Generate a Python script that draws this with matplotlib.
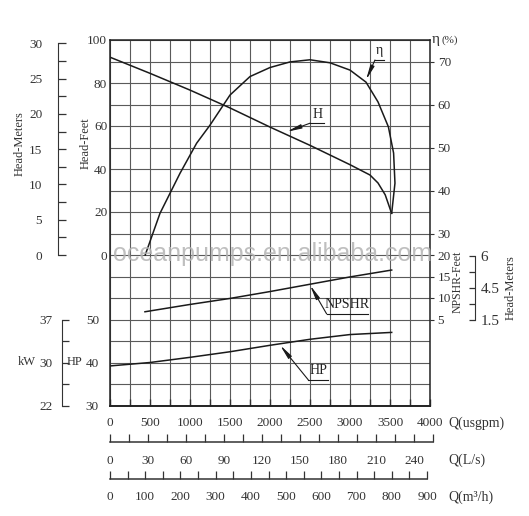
import matplotlib
matplotlib.use('Agg')
import matplotlib.pyplot as plt
from matplotlib.ticker import MultipleLocator, FixedLocator, FixedFormatter

# ---- data ----
# H curve: head in feet vs flow in usgpm
q_head = [0, 500, 1000, 1500, 2000, 2500, 3000, 3250, 3350, 3440, 3520]
head_ft = [92, 84.5, 76.7, 68.4, 59.5, 51.0, 42.0, 37.2, 33.5, 28.0, 19.4]

# efficiency curve (%), bends back at the end like in the original drawing
q_eta = [440, 625, 875, 1083, 1250, 1500, 1750, 2000, 2250, 2500, 2750,
         3000, 3200, 3350, 3480, 3545, 3562, 3521]
eta = [25, 34.7, 44, 51, 55.2, 62.2, 66.5, 68.6, 69.9, 70.4, 69.7,
       68.0, 65.2, 60.6, 54.8, 48.7, 41.7, 34.7]

# NPSHR in feet
q_npshr = [437, 1000, 1500, 2000, 2500, 3000, 3521]
npshr_ft = [6.8, 8.5, 9.9, 11.5, 13.2, 14.9, 16.5]

# power in HP
q_hp = [0, 500, 1000, 1500, 2000, 2500, 3000, 3521]
hp = [39.2, 40.0, 41.2, 42.5, 44.0, 45.4, 46.5, 47.0]

head_ft_ticks = [0, 20, 40, 60, 80, 100]
head_m_ticks = [0, 5, 10, 15, 20, 25, 30]
head_m_minor = [2.5, 7.5, 12.5, 17.5, 22.5, 27.5]
hp_ticks = [30, 40, 50]
eta_ticks = [30, 40, 50, 60, 70]
npshr_ticks = [5, 10, 15, 20]
kw_pos = [30, 35, 40, 45, 50]
kw_labels = ['22', '', '30', '', '37']
npshr_m_pos = [1.5, 2.625, 3.75, 4.875, 6]
npshr_m_labels = ['1.5', '', '4.5', '', '6']

FT = 3.2808          # feet per metre
LS = 0.0630902       # L/s per usgpm
M3H = 0.2271247      # m3/h per usgpm


# everything is drawn on one grid whose y unit is "head feet"
def eta2u(e):
    return (e - 25) * 2

def u2eta(u):
    return u / 2 + 25

def npshr2u(n):
    return (n - 20) * 2

def u2npshr(u):
    return u / 2 + 20

def hp2u(h):
    return 2 * h - 130

def u2hp(u):
    return (u + 130) / 2


plt.rcParams['font.family'] = ['Liberation Serif', 'DejaVu Serif']
plt.rcParams['font.size'] = 9.5

W, H = 529, 516
fig = plt.figure(figsize=(W / 100, H / 100), dpi=100)

x0, x1, y0, y1 = 110, 430, 40, 405.5
ax = fig.add_axes([x0 / W, 1 - y1 / H, (x1 - x0) / W, (y1 - y0) / H])
ax.set_xlim(0, 4000)
ax.set_ylim(-70, 100)

ax.xaxis.set_major_locator(MultipleLocator(500))
ax.xaxis.set_minor_locator(MultipleLocator(250))
ax.yaxis.set_major_locator(FixedLocator(head_ft_ticks))
ax.yaxis.set_minor_locator(MultipleLocator(10))
ax.grid(which='both', color='#5a5a5a', lw=0.8)
ax.set_axisbelow(True)
ax.tick_params(axis='x', which='both', direction='in', length=5, width=1, pad=8, colors='#333')
ax.tick_params(axis='y', which='both', length=0, pad=2, colors='#333')
for s in ax.spines.values():
    s.set_color('#222')
    s.set_linewidth(1.1)
ax.spines['bottom'].set_linewidth(1.4)

# curves
lk = dict(color='#1a1a1a', lw=1.1)
ax.plot(q_head, head_ft, **lk)
ax.plot(q_eta, [eta2u(e) for e in eta], **lk)
ax.plot(q_npshr, [npshr2u(n) for n in npshr_ft], **lk)
ax.plot(q_hp, [hp2u(h) for h in hp], **lk)

# curve labels with leaders
arrow = dict(arrowstyle='-|>,head_length=0.9,head_width=0.13', color='#1a1a1a',
             lw=0.8, shrinkA=0, shrinkB=0)
labels = [
    # text, tip, elbow, line end, text pos
    ('η', (3200, 81.4), (3312, 90.7), 3420, (3370, 92)),
    ('H', (2208, 57.3), (2500, 61.3), 2670, (2590, 62.5)),
    ('NPSHR', (2500, -14.0), (2708, -27.4), 3230, (2965, -26.2)),
    ('HP', (2125, -41.9), (2479, -58.1), 2730, (2610, -56.9)),
]
for txt, tip, elbow, xend, tpos in labels:
    ax.annotate('', xy=tip, xytext=elbow, arrowprops=arrow)
    ax.plot([elbow[0], xend], [elbow[1], elbow[1]], color='#1a1a1a', lw=0.8)
    ax.text(tpos[0], tpos[1], txt, ha='center', va='bottom', fontsize=10, color='#222')

# watermark
ax.text(2030, 0.5, 'oceanpumps.en.alibaba.com', ha='center', va='center',
        family='Liberation Sans', fontsize=18, color='#b4b4b4', alpha=0.85)

# left: HP labels on the main spine
sec_hp = ax.secondary_yaxis('left', functions=(u2hp, hp2u))
sec_hp.yaxis.set_major_locator(FixedLocator(hp_ticks))
sec_hp.tick_params(length=0, pad=8, colors='#333')
sec_hp.spines['left'].set_visible(False)

# left: Head-Meters bracket
sec_m = ax.secondary_yaxis((57.5 - x0) / (x1 - x0), functions=(lambda u: u / FT, lambda m: m * FT))
sec_m.yaxis.set_major_locator(FixedLocator(head_m_ticks))
sec_m.yaxis.set_minor_locator(FixedLocator(head_m_minor))
sec_m.tick_params(which='both', direction='in', length=6, width=0.9, pad=11, colors='#333')
sec_m.spines['left'].set_bounds(0, 30)
sec_m.spines['left'].set_color('#333')

# left: kW bracket
sec_kw = ax.secondary_yaxis((62 - x0) / (x1 - x0), functions=(u2hp, hp2u))
sec_kw.yaxis.set_major_locator(FixedLocator(kw_pos))
sec_kw.yaxis.set_major_formatter(FixedFormatter(kw_labels))
sec_kw.tick_params(direction='in', length=5, width=0.9, pad=7, colors='#333')
sec_kw.spines['left'].set_bounds(30, 50)
sec_kw.spines['left'].set_color('#333')

# right: efficiency and NPSHR feet
sec_eta = ax.secondary_yaxis('right', functions=(u2eta, eta2u))
sec_eta.yaxis.set_major_locator(FixedLocator(eta_ticks))
sec_eta.tick_params(direction='out', length=3, pad=2.5, colors='#333')
sec_eta.spines['right'].set_visible(False)

sec_np = ax.secondary_yaxis('right', functions=(u2npshr, npshr2u))
sec_np.yaxis.set_major_locator(FixedLocator(npshr_ticks))
sec_np.tick_params(direction='out', length=3, pad=2.5, colors='#333')
sec_np.spines['right'].set_visible(False)

# right: NPSHR metres bracket
sec_npm = ax.secondary_yaxis((475 - x0) / (x1 - x0),
                             functions=(lambda u: (u / 2 + 20) / FT,
                                        lambda m: (m * FT - 20) * 2))
sec_npm.yaxis.set_major_locator(FixedLocator(npshr_m_pos))
sec_npm.yaxis.set_major_formatter(FixedFormatter(npshr_m_labels))
sec_npm.tick_params(direction='in', length=4, width=0.9, pad=4, colors='#333', labelsize=11)
sec_npm.spines['right'].set_bounds(npshr_m_pos[0], npshr_m_pos[-1])
sec_npm.spines['right'].set_color('#333')


# extra flow scales under the chart
def flow_scale(ypx, factor, major, minor, end):
    wpx = 335
    a = fig.add_axes([x0 / W, 1 - ypx / H, wpx / W, 1e-4])
    a.set_xlim(0, 4000 * factor * wpx / (x1 - x0))
    a.patch.set_visible(False)
    for side in ['left', 'right', 'top']:
        a.spines[side].set_visible(False)
    a.spines['bottom'].set_bounds(0, end)
    a.spines['bottom'].set_color('#333')
    a.spines['bottom'].set_linewidth(1.1)
    a.set_yticks([])
    a.xaxis.set_major_locator(MultipleLocator(major))
    a.xaxis.set_minor_locator(FixedLocator(list(range(0, end + 1, minor))))
    a.tick_params(axis='x', which='both', direction='in', length=6, width=0.9, pad=9, colors='#333')
    return a


flow_scale(442, LS, 30, 15, 255)
flow_scale(479, M3H, 100, 50, 900)

# axis titles
tc = '#333'
fig.text(448 / W, 1 - 423 / H, 'Q(usgpm)', ha='left', va='center', fontsize=10, color=tc)
fig.text(448 / W, 1 - 460 / H, 'Q(L/s)', ha='left', va='center', fontsize=10, color=tc)
fig.text(448 / W, 1 - 497 / H, 'Q(m³/h)', ha='left', va='center', fontsize=10, color=tc)
fig.text(20 / W, 1 - 144 / H, 'Head-Meters', rotation=90, ha='center', va='center', fontsize=9, color=tc)
fig.text(86 / W, 1 - 143 / H, 'Head-Feet', rotation=90, ha='center', va='center', fontsize=9, color=tc)
fig.text(27 / W, 1 - 362 / H, 'kW', ha='center', va='center', fontsize=9, color=tc)
fig.text(75 / W, 1 - 362 / H, 'HP', ha='center', va='center', fontsize=9, color=tc)
fig.text(458 / W, 1 - 282 / H, 'NPSHR-Feet', rotation=90, ha='center', va='center', fontsize=8.5, color=tc)
fig.text(511 / W, 1 - 288 / H, 'Head-Meters', rotation=90, ha='center', va='center', fontsize=9, color=tc)
fig.text(432 / W, 1 - 40 / H, 'η', ha='left', va='center', fontsize=11, color=tc)
fig.text(442 / W, 1 - 40 / H, '(%)', ha='left', va='center', fontsize=8, color=tc)

fig.savefig('out.png', dpi=100)
